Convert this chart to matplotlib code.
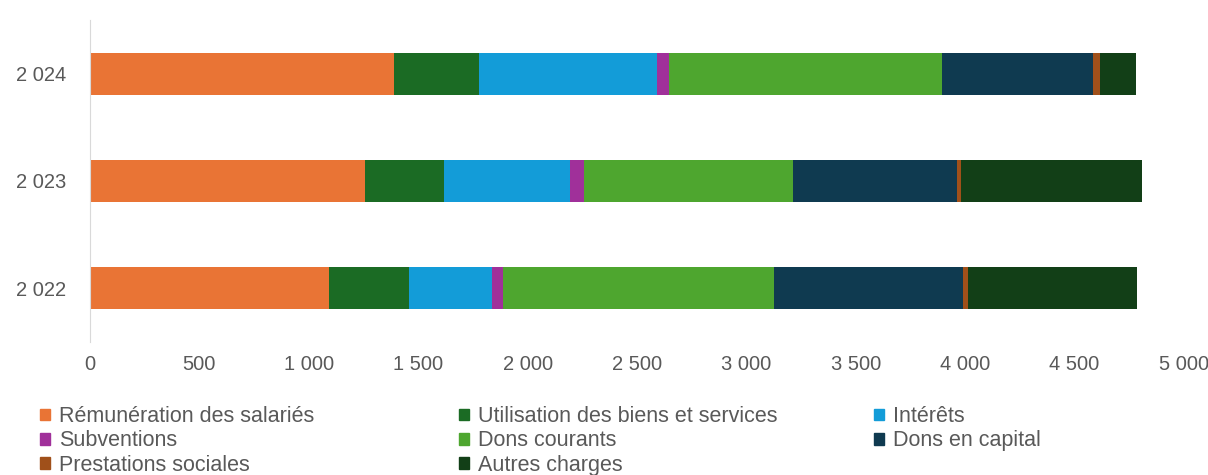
import numpy as np
import matplotlib.pyplot as plt
from matplotlib.patches import Patch

plt.rcParams['font.family'] = ['Liberation Sans', 'DejaVu Sans']

years = ['2 022', '2 023', '2 024']
series = ['Rémunération des salariés', 'Utilisation des biens et services', 'Intérêts',
          'Subventions', 'Dons courants', 'Dons en capital',
          'Prestations sociales', 'Autres charges']

remuneration = [1093, 1258, 1390]
utilisation = [366, 361, 389]
interets = [380, 576, 814]
subventions = [50, 64, 55]
dons_courants = [1235, 956, 1244]
dons_capital = [864, 746, 691]
prestations = [27, 21, 32]
autres = [771, 828, 165]

colors = ['#E97435', '#1B6B24', '#139CD8', '#A0309A',
          '#4EA62F', '#0F3A50', '#A0501A', '#123F17']

data = [remuneration, utilisation, interets, subventions,
        dons_courants, dons_capital, prestations, autres]

fig = plt.figure(figsize=(12.08, 4.75), dpi=100)
ax = fig.add_axes([90/1208, 133/475, 1094/1208, 322/475])

y = np.arange(len(years))
left = np.zeros(len(years))
for vals, c, name in zip(data, colors, series):
    ax.barh(y, vals, left=left, height=0.39, color=c, label=name)
    left += np.array(vals)

ax.set_xlim(0, 5000)
ax.set_ylim(-0.5, 2.5)
ax.set_yticks(y)
ax.set_yticklabels(years)
ticks = np.arange(0, 5001, 500)
ax.set_xticks(ticks)
ax.set_xticklabels([f'{t:,}'.replace(',', ' ') for t in ticks])
ax.tick_params(axis='both', length=0, labelsize=14.5, colors='#595959')
ax.tick_params(axis='x', pad=9)
ax.tick_params(axis='y', pad=17)
for s in ['top', 'right', 'bottom']:
    ax.spines[s].set_visible(False)
ax.spines['left'].set_color('#D9D9D9')

# legend laid out in three columns at fixed positions
handles = [Patch(color=c) for c in colors]
cols = [[0, 3, 6], [1, 4, 7], [2, 5]]
xs = [40/1208, 459/1208, 874/1208]
for idx, x0 in zip(cols, xs):
    fig.legend([handles[i] for i in idx], [series[i] for i in idx],
               loc='upper left', bbox_to_anchor=(x0, 69/475),
               frameon=False, fontsize=15.5, handlelength=0.45,
               handleheight=0.45, handletextpad=0.45, labelspacing=0.16,
               borderpad=0, borderaxespad=0, labelcolor='#595959')

fig.savefig('out.png', dpi=100)
